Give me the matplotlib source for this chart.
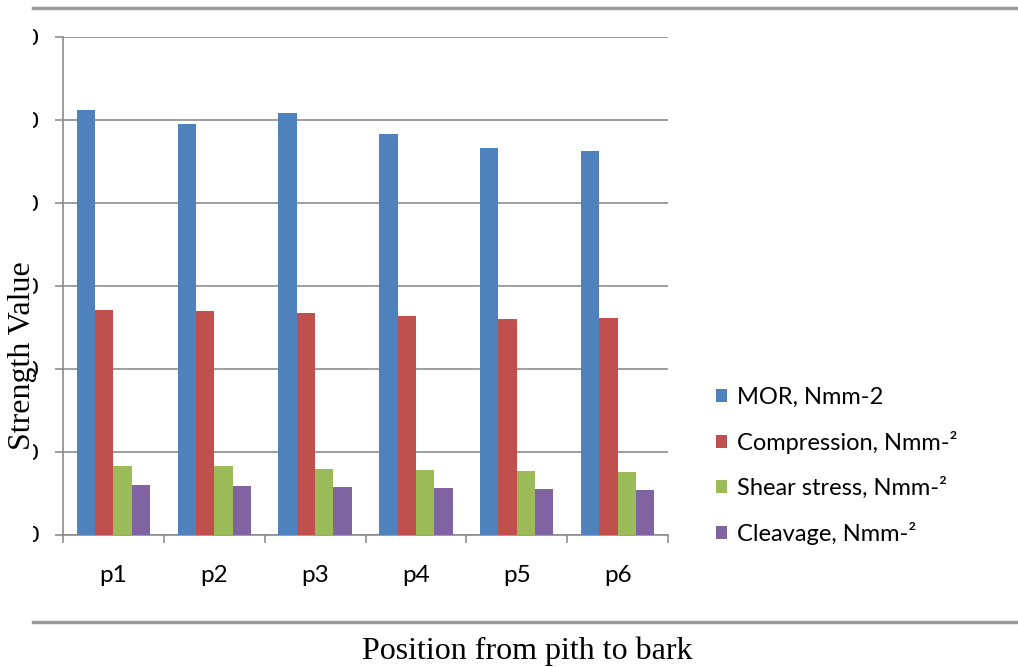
import matplotlib
matplotlib.use("Agg")
import matplotlib.pyplot as plt
import numpy as np
from matplotlib.lines import Line2D
from matplotlib.transforms import Bbox, TransformedBbox

positions = ["p1", "p2", "p3", "p4", "p5", "p6"]
series_names = ["MOR, Nmm-2", "Compression, Nmm-\u00b2", "Shear stress, Nmm-\u00b2", "Cleavage, Nmm-\u00b2"]
mor = [102.4, 98.9, 101.6, 96.7, 93.2, 92.6]
compression = [54.2, 54.0, 53.4, 52.7, 52.0, 52.2]
shear = [16.5, 16.5, 15.7, 15.6, 15.4, 15.0]
cleavage = [12.0, 11.7, 11.5, 11.2, 11.05, 10.8]
y_ticks = [0, 20, 40, 60, 80, 100, 120]

colors = ["#4F81BD", "#C0504D", "#9BBB59", "#8064A2"]
grid_col = "#8C8C8C"

W, H = 1018, 667
fig = plt.figure(figsize=(W / 100, H / 100), dpi=100)
ax = fig.add_axes([63 / W, 1 - 534.5 / H, (668 - 63) / W, (534.5 - 37) / H])

x = np.arange(len(positions))
bw = 1 / 5.5
for i, (vals, name) in enumerate(zip([mor, compression, shear, cleavage], series_names)):
    ax.bar(x + (i - 1.5) * bw, vals, bw, color=colors[i], label=name, zorder=3)

ax.set_xlim(-0.5, len(positions) - 0.5)
ax.set_ylim(0, 120)
ax.set_yticks(y_ticks, [str(v) for v in y_ticks])
ax.yaxis.grid(True, color=grid_col, lw=1.2, zorder=0)
ax.set_xticks(np.arange(len(positions) + 1) - 0.5, [""] * (len(positions) + 1))
ax.set_xticks(x, positions, minor=True)
ax.tick_params(axis="x", which="major", length=6, width=1.2, color=grid_col, direction="out")
ax.tick_params(axis="x", which="minor", length=0, pad=22, labelsize=17.5)
ax.tick_params(axis="y", length=6, width=1.2, color=grid_col, direction="out", pad=10.5, labelsize=16)
for lab in ax.get_xticklabels(minor=True):
    lab.set_fontfamily("Lato")
for s in ["top", "right"]:
    ax.spines[s].set_visible(False)
for s in ["left", "bottom"]:
    ax.spines[s].set_color(grid_col)
    ax.spines[s].set_linewidth(1.2)

# y tick labels were cut off in the original, only their right edge shows
clip = TransformedBbox(Bbox([[33 / W, 0], [1, 1]]), fig.transFigure)
for t in ax.yaxis.get_major_ticks():
    t.label1.set_clip_on(True)
    t.label1.set_clip_box(clip)

fig.text(23 / W, 1 - 356 / H, "Strength Value", rotation=90, ha="center", va="center",
         fontsize=23, family="Liberation Serif")
fig.text(527 / W, 1 - 651 / H, "Position from pith to bark", ha="center", va="center",
         fontsize=23, family="Liberation Serif")

for yy in [8, 622]:
    fig.add_artist(Line2D([33 / W, 1], [1 - yy / H, 1 - yy / H], transform=fig.transFigure,
                          color="#999999", lw=2.5))

leg = ax.legend(loc="center left", bbox_to_anchor=(716 / W, 1 - 466 / H), bbox_transform=fig.transFigure,
                frameon=False, prop={"family": "Lato", "size": 17}, handlelength=0.47, handleheight=0.47,
                handletextpad=0.42, labelspacing=0.97, borderaxespad=0, borderpad=0)

fig.savefig("out.png", dpi=100)
